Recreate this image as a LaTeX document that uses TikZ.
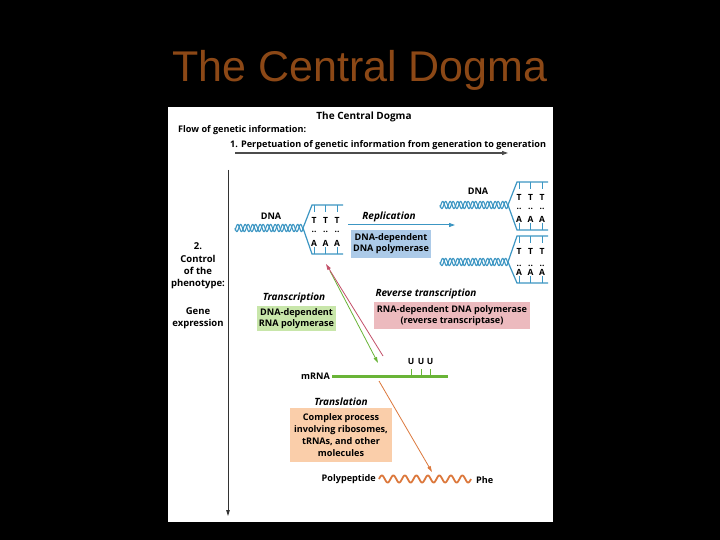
\documentclass[tikz,border=0pt]{standalone}
\usepackage{fontspec}
\setmainfont{Open Sans}
\newfontfamily\titlefont{Liberation Sans}
\usetikzlibrary{arrows.meta}
\definecolor{ttl}{RGB}{140,72,22}
\definecolor{bl}{RGB}{60,150,195}
\definecolor{blbox}{RGB}{172,202,232}
\definecolor{gr}{RGB}{105,180,55}
\definecolor{grbox}{RGB}{200,230,170}
\definecolor{pkbox}{RGB}{236,186,190}
\definecolor{rd}{RGB}{195,80,105}
\definecolor{orbox}{RGB}{250,206,170}
\definecolor{orl}{RGB}{220,120,60}
\begin{document}
\begin{tikzpicture}[x=1pt,y=-1pt,
  txt/.style={font=\fontsize{9.1}{11}\selectfont\bfseries, inner sep=1pt, align=center},
  itx/.style={font=\fontsize{10}{11}\selectfont\bfseries\itshape, inner sep=1pt},
  box/.style={txt, inner sep=2pt},
  helix/.style={bl, line width=1.1pt},
  fork/.style={bl, line width=1.2pt},
  base/.style={font=\fontsize{8.5}{9}\selectfont\bfseries, inner sep=0pt}]
\useasboundingbox (0,0) rectangle (720,540);
\fill[black] (0,0) rectangle (720,540);
\node[text=ttl, font=\titlefont\fontsize{43}{46}\selectfont] (title) at (360,70) {The Central Dogma};
\fill[white] (168,107) rectangle (553,522);
\node[txt, font=\fontsize{10}{11}\selectfont\bfseries] (sub) at (364,117) {The Central Dogma};
\node[txt, anchor=west] (flow) at (177,130) {Flow of genetic information:};
\node[txt, anchor=west] (perp) at (229,145) {1. Perpetuation of genetic information from generation to generation};
\coordinate (pa) at (235,153); \coordinate (pb) at (508,153);
\draw[black!70, line width=1.1pt, -{Triangle[length=6pt,width=4pt]}] (pa) -- (pb);
\coordinate (va) at (228,170); \coordinate (vb) at (228,516);
\draw[black!80, line width=0.9pt, -{Triangle[length=6pt,width=3.5pt]}] (va) -- (vb);
\node[txt, font=\fontsize{9.5}{12.3}\selectfont\bfseries] (ctrl) at (198,266) {2.\\Control\\of the\\phenotype:};
\node[txt, font=\fontsize{9.5}{12.3}\selectfont\bfseries] (gexp) at (198,318) {Gene\\expression};
% DNA helices
\foreach \hx/\hy in {235/228, 440/205, 440/262}{
  \draw[helix] plot[domain=0:68,samples=150] ({\hx+\x},{\hy+3.6*sin(\x*48)});
  \draw[helix] plot[domain=0:68,samples=150] ({\hx+\x},{\hy+3.6*sin(\x*48+140)});
}
% forks
\foreach \fx/\fy/\ft/\fb in {303/228/205/254, 508/205/182/230, 508/262/236/283}{
  \draw[fork] (\fx,\fy) -- (\fx+9,\ft) -- (\fx+40,\ft);
  \draw[fork] (\fx,\fy) -- (\fx+9,\fb) -- (\fx+40,\fb);
  \foreach \k in {0,1,2}{
    \draw[fork,line width=1pt] (\fx+11+11.5*\k,\ft) -- ++(0,7);
    \draw[fork,line width=1pt] (\fx+11+11.5*\k,\fb) -- ++(0,-7);
    \node[base] at (\fx+11+11.5*\k,\ft+15) {T};
    \node[base] at (\fx+11+11.5*\k,\fy+4) {..};
    \node[base] at (\fx+11+11.5*\k,\fb-11) {A};
  }
}
\node[txt] (dna1) at (271,216) {DNA};
\node[txt] (dna2) at (478,191) {DNA};
% replication
\coordinate (ra) at (348,225); \coordinate (rb) at (455,225);
\draw[bl, line width=1pt, -{Triangle[length=6pt,width=4pt]}] (ra) -- (rb);
\node[itx] (repl) at (389,217) {Replication};
\node[box, fill=blbox, minimum width=80pt, minimum height=28pt] (rbox) at (391,244) {DNA-dependent\\DNA polymerase};
% transcription & reverse
\coordinate (ga) at (330,271); \coordinate (gb) at (378,363);
\draw[gr, line width=0.8pt, -{Triangle[length=6pt,width=3.5pt]}] (ga) -- (gb);
\coordinate (pra) at (383,356); \coordinate (prb) at (326,264);
\draw[rd, line width=0.8pt, -{Triangle[length=6pt,width=3.5pt]}] (pra) -- (prb);
\node[itx] (trans) at (294,298) {Transcription};
\node[box, fill=grbox, minimum width=79pt, minimum height=25pt] (gbox) at (296.5,318.5) {DNA-dependent\\RNA polymerase};
\node[itx] (rev) at (426,294) {Reverse transcription};
\node[box, fill=pkbox, minimum width=156pt, minimum height=27pt] (pbox) at (452,315.5) {RNA-dependent DNA polymerase\\(reverse transcriptase)};
% mRNA
\node[txt, anchor=east] (mrna) at (331,376) {mRNA};
\coordinate (ma) at (332,376); \coordinate (mb) at (448,376);
\draw[gr, line width=3pt] (ma) -- (mb);
\foreach \u in {411,421,430}{
  \draw[gr, line width=1pt] (\u,376) -- (\u,369);
  \node[base] at (\u,362) {U};
}
% translation
\coordinate (oa) at (379,381); \coordinate (ob) at (432,472);
\draw[orl, line width=0.8pt, -{Triangle[length=6pt,width=3.5pt]}] (oa) -- (ob);
\node[itx] (transl) at (341,402) {Translation};
\node[box, fill=orbox, minimum width=102pt, minimum height=54pt, font=\fontsize{9.1}{11.8}\selectfont\bfseries] (obox) at (341,435) {Complex process\\involving ribosomes,\\tRNAs, and other\\molecules};
\node[txt, anchor=east] (poly) at (377,479) {Polypeptide};
\draw[orl, line width=1.8pt] plot[domain=0:92,samples=150] ({379+\x},{479-3.5*sin(\x*31.3)});
\node[txt, anchor=west] (phe) at (475,480) {Phe};
\end{tikzpicture}
\end{document}
